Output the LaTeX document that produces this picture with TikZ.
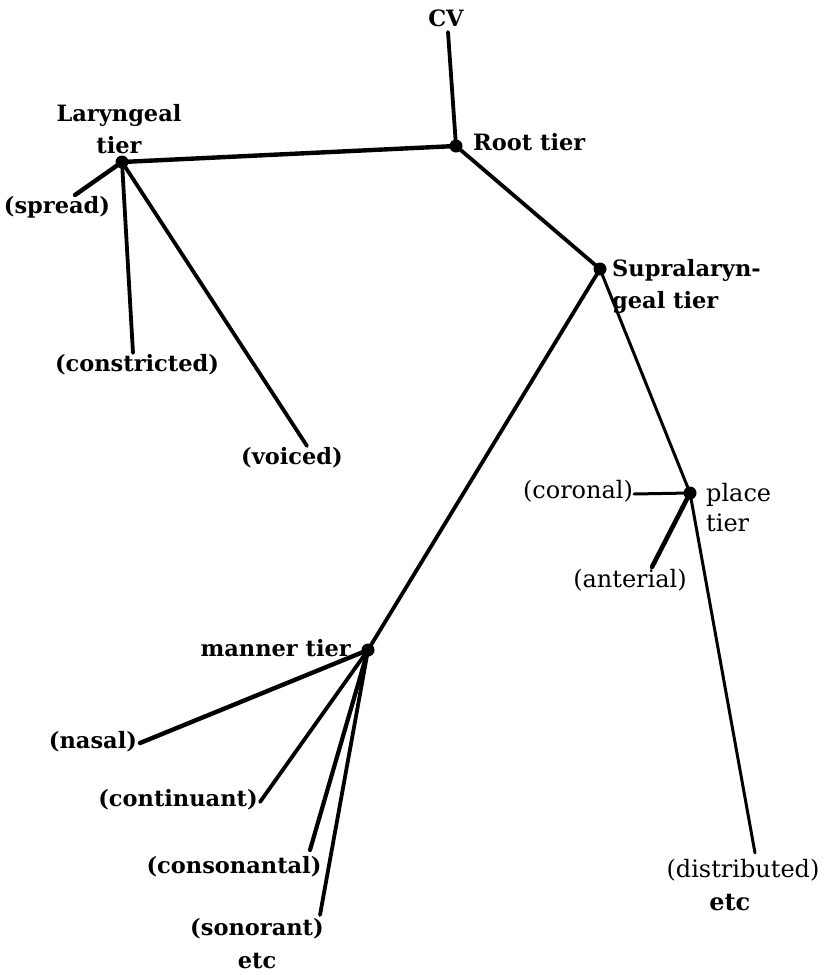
\documentclass[tikz,border=0pt]{standalone}
\usepackage{fontspec}
\setmainfont{DejaVu Serif}
\begin{document}
\begin{tikzpicture}[x=1pt,y=-1pt,
  lbl/.style={font=\fontsize{22.5}{32}\selectfont\bfseries, inner sep=0pt},
  lightlbl/.style={font=\fontsize{24}{30}\selectfont, inner sep=0pt},
  edge/.style={line width=3.8pt, line cap=round},
  thin edge/.style={line width=3pt, line cap=round},
  dotmark/.style={fill=black}]
\useasboundingbox (0,0) rectangle (827,975);
% tier points
\coordinate (root) at (456,146);
\coordinate (lar) at (122,162);
\coordinate (supra) at (600,269);
\coordinate (place) at (690,493);
\coordinate (manner) at (368,650);
% labels
\node[lbl] (cv) at (446,18) {CV};
\node[lbl, anchor=west] (rootlbl) at (473,142) {Root tier};
\node[lbl, align=center] (larlbl) at (119,129) {Laryngeal\\tier};
\node[lbl, align=left, anchor=west] (supralbl) at (612,286) {Supralaryn-\\geal tier};
\node[lightlbl, align=left, anchor=west] (placelbl) at (706,508) {place\\tier};
\node[lbl, anchor=east] (mannerlbl) at (351,648) {manner tier};
\node[lbl] (spread) at (57,207) {(spread)};
\node[lbl] (constricted) at (137,365) {(constricted)};
\node[lbl] (voiced) at (292,458) {(voiced)};
\node[lightlbl] (coronal) at (578,491) {(coronal)};
\node[lightlbl] (anterial) at (630,580) {(anterial)};
\node[lightlbl, align=center, font=\fontsize{24}{33}\selectfont] (distributed) at (743,885) {(distributed)\\\textbf{etc}\hspace*{1.1em}};
\node[lbl] (nasal) at (93,742) {(nasal)};
\node[lbl] (continuant) at (178,800) {(continuant)};
\node[lbl] (consonantal) at (234,867) {(consonantal)};
\node[lbl, align=center, font=\fontsize{22.5}{33}\selectfont\bfseries] (sonorant) at (257,944) {(sonorant)\\etc};
% connector ends
\coordinate (cvend) at (448,32);
\coordinate (spreadend) at (75,195);
\coordinate (constrend) at (133,353);
\coordinate (voicedend) at (307,446);
\coordinate (coronalend) at (634,494);
\coordinate (anterialend) at (652,567);
\coordinate (distrend) at (755,853);
\coordinate (nasalend) at (140,743);
\coordinate (continend) at (260,802);
\coordinate (consonend) at (310,850);
\coordinate (sonorend) at (320,915);
% connectors
\draw[edge] (cvend) -- (root);
\draw[edge, line width=4.4pt] (root) -- (lar);
\draw[edge] (root) -- (supra);
\draw[edge, line width=4.4pt] (lar) -- (spreadend);
\draw[edge] (lar) -- (constrend);
\draw[edge] (lar) -- (voicedend);
\draw[edge] (supra) -- (manner);
\draw[thin edge] (supra) -- (place);
\draw[thin edge] (place) -- (coronalend);
\draw[edge, line width=4.6pt] (place) -- (anterialend);
\draw[thin edge] (place) -- (distrend);
\draw[edge, line width=4.4pt] (manner) -- (nasalend);
\draw[edge] (manner) -- (continend);
\draw[edge, line width=4.2pt] (manner) -- (consonend);
\draw[edge] (manner) -- (sonorend);
% dots
\foreach \p in {root,lar,supra,place,manner} \fill[dotmark] (\p) circle (6.5pt);
\end{tikzpicture}
\end{document}
